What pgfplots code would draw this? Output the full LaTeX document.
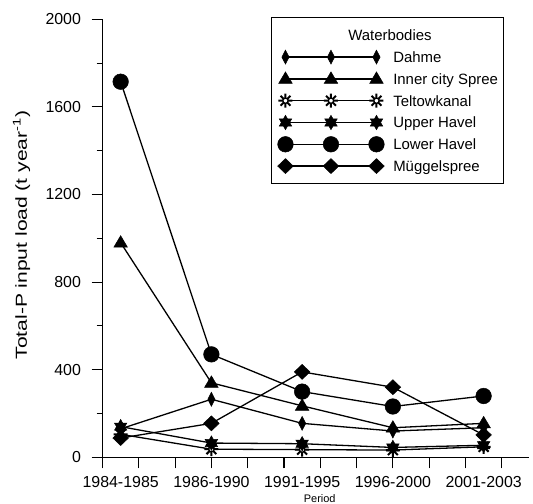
\documentclass[border=0pt]{standalone}
\usepackage{graphicx}
\usepackage{pgfplots}
\pgfplotsset{compat=1.18}
\usepackage{fontspec}
\setmainfont{Liberation Sans}

\pgfdeclareplotmark{thindiamond}{%
  \pgfpathmoveto{\pgfqpoint{0bp}{7bp}}%
  \pgfpathlineto{\pgfqpoint{3.6bp}{0bp}}%
  \pgfpathlineto{\pgfqpoint{0bp}{-7bp}}%
  \pgfpathlineto{\pgfqpoint{-3.6bp}{0bp}}%
  \pgfpathclose\pgfusepathqfillstroke}
\pgfdeclareplotmark{bigdiamond}{%
  \pgfpathmoveto{\pgfqpoint{0bp}{7.5bp}}%
  \pgfpathlineto{\pgfqpoint{7.8bp}{0bp}}%
  \pgfpathlineto{\pgfqpoint{0bp}{-7.5bp}}%
  \pgfpathlineto{\pgfqpoint{-7.8bp}{0bp}}%
  \pgfpathclose\pgfusepathqfillstroke}
\pgfdeclareplotmark{tri}{%
  \pgfpathmoveto{\pgfqpoint{0bp}{7bp}}%
  \pgfpathlineto{\pgfqpoint{6.8bp}{-4.5bp}}%
  \pgfpathlineto{\pgfqpoint{-6.8bp}{-4.5bp}}%
  \pgfpathclose\pgfusepathqfillstroke}
\pgfdeclareplotmark{bigcircle}{%
  \pgfpathcircle{\pgfpointorigin}{7.8bp}\pgfusepathqfillstroke}
\pgfdeclareplotmark{hexstar}{%
  \pgfpathmoveto{\pgfpointpolar{90}{7.2bp}}%
  \pgfpathlineto{\pgfpointpolar{120}{4.1bp}}%
  \pgfpathlineto{\pgfpointpolar{150}{7.2bp}}%
  \pgfpathlineto{\pgfpointpolar{180}{4.1bp}}%
  \pgfpathlineto{\pgfpointpolar{210}{7.2bp}}%
  \pgfpathlineto{\pgfpointpolar{240}{4.1bp}}%
  \pgfpathlineto{\pgfpointpolar{270}{7.2bp}}%
  \pgfpathlineto{\pgfpointpolar{300}{4.1bp}}%
  \pgfpathlineto{\pgfpointpolar{330}{7.2bp}}%
  \pgfpathlineto{\pgfpointpolar{0}{4.1bp}}%
  \pgfpathlineto{\pgfpointpolar{30}{7.2bp}}%
  \pgfpathlineto{\pgfpointpolar{60}{4.1bp}}%
  \pgfpathclose\pgfusepathqfillstroke}
\pgfdeclareplotmark{sun}{%
  \pgfsetlinewidth{2bp}%
  \pgfpathmoveto{\pgfpointpolar{0}{7bp}}\pgfpathlineto{\pgfpointpolar{180}{7bp}}%
  \pgfpathmoveto{\pgfpointpolar{90}{7bp}}\pgfpathlineto{\pgfpointpolar{270}{7bp}}%
  \pgfpathmoveto{\pgfpointpolar{45}{7bp}}\pgfpathlineto{\pgfpointpolar{225}{7bp}}%
  \pgfpathmoveto{\pgfpointpolar{135}{7bp}}\pgfpathlineto{\pgfpointpolar{315}{7bp}}%
  \pgfusepathqstroke
  \pgfsetlinewidth{1.2bp}%
  \pgfsetfillcolor{white}%
  \pgfpathcircle{\pgfpointorigin}{2.6bp}\pgfusepathqfillstroke}

\begin{document}
\begin{tikzpicture}
\path[use as bounding box] (0,0) rectangle (533bp,504bp);
\begin{axis}[
  at={(102.5bp,46.7bp)}, anchor=south west,
  scale only axis,
  width=426.5bp, height=438bp,
  xmin=0, xmax=11.75, ymin=0, ymax=2000,
  axis x line=bottom, axis y line=left,
  axis line style={-, line width=1.1bp},
  tick style={line width=1.1bp, black},
  tick align=outside,
  major tick length=11bp, minor tick length=6bp,
  xtick={0,...,11}, xticklabels={},
  extra x ticks={0.5,3,5.5,8,10.5},
  extra x tick labels={1984-1985,1986-1990,1991-1995,1996-2000,2001-2003},
  extra x tick style={major tick length=0pt, xticklabel style={yshift=-16bp}},
  ytick={0,400,...,2000},
  minor ytick={200,600,1000,1400,1800},
  yticklabel style={xshift=-7bp},
  /pgf/number format/assume math mode=true,
  /pgf/number format/1000 sep={},
  tick label style={font=\fontsize{16}{19}\selectfont},
  xlabel={Period},
  xlabel style={font=\fontsize{11}{13}\selectfont, at={(axis description cs:0.5,0)}, anchor=center, yshift=-41bp, xshift=4bp},
  ylabel={\scalebox{1.32}[1]{Total-P input load (t year\textsuperscript{-1})}},
  ylabel style={font=\fontsize{16}{19}\selectfont, at={(axis description cs:-0.19,0.5075)}, anchor=center},
  legend image code/.code={\draw[#1] plot coordinates {(0bp,0bp) (45.5bp,0bp) (91bp,0bp)};},
  legend cell align=left,
  legend style={at={(rel axis cs:0.3955,1)}, anchor=north west, yshift=2bp,
    draw=black, line width=1bp, font=\fontsize{15}{18}\selectfont,
    inner xsep=6bp, inner ysep=9bp, row sep=4.8bp, column sep=9bp,
    nodes={inner xsep=0pt, inner ysep=3bp, text height=11bp, text depth=0bp}},
  every axis plot/.append style={black, line width=1.3bp, mark options={solid, fill=black, line width=0.5bp}},
]
\addlegendimage{empty legend}
\addlegendentry{\hspace*{-45bp}Waterbodies}

\addplot[mark=thindiamond] coordinates {(0.5,130) (3,265) (5.5,155) (8,120) (10.5,135)};
\addlegendentry{Dahme}
\addplot[mark=tri] coordinates {(0.5,980) (3,340) (5.5,235) (8,135) (10.5,155)};
\addlegendentry{Inner city Spree}
\addplot[mark=sun] coordinates {(0.5,105) (3,37) (5.5,35) (8,33) (10.5,48)};
\addlegendentry{Teltowkanal}
\addplot[mark=hexstar] coordinates {(0.5,140) (3,65) (5.5,62) (8,45) (10.5,55)};
\addlegendentry{Upper Havel}
\addplot[mark=bigcircle] coordinates {(0.5,1715) (3,470) (5.5,300) (8,232) (10.5,280)};
\addlegendentry{Lower Havel}
\addplot[mark=bigdiamond] coordinates {(0.5,88) (3,155) (5.5,390) (8,320) (10.5,102)};
\addlegendentry{Müggelspree}
\end{axis}
\end{tikzpicture}
\end{document}
